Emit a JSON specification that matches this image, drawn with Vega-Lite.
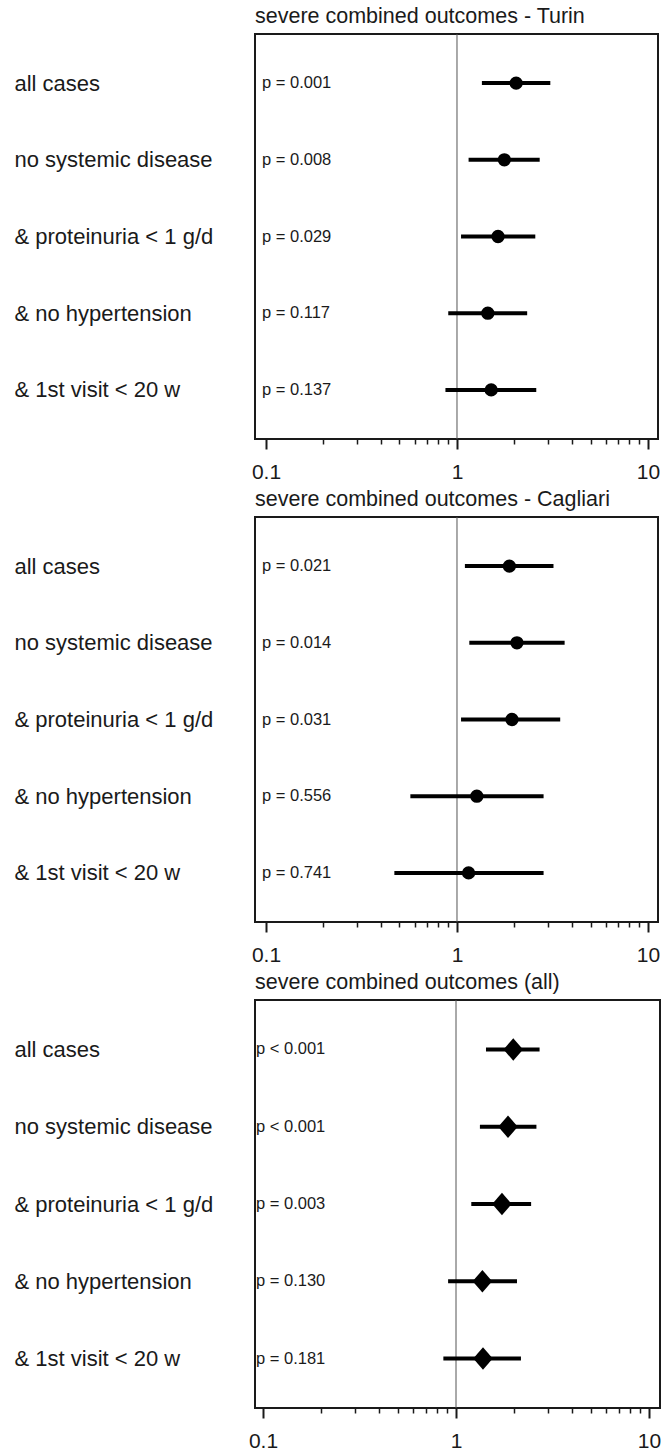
{
  "$schema": "https://vega.github.io/schema/vega-lite/v6.json",
  "padding": {"left": 13, "top": 5, "right": 0, "bottom": 0},
  "spacing": 5,
  "config": {
    "font": "Liberation Sans",
    "view": {"stroke": "#1a1a1a", "strokeWidth": 2},
    "axis": {"grid": false, "title": null, "labelColor": "#1a1a1a", "labelFont": "Liberation Sans"},
    "title": {"font": "Liberation Sans", "fontSize": 21.5, "fontWeight": "normal", "color": "#1a1a1a", "anchor": "start", "frame": "group"}
  },
  "datasets": {
    "forest": [
      {"panel": "Turin", "label": "all cases", "p": "p = 0.001", "or": 2.04, "lo": 1.35, "hi": 3.08},
      {"panel": "Turin", "label": "no systemic disease", "p": "p = 0.008", "or": 1.77, "lo": 1.15, "hi": 2.71},
      {"panel": "Turin", "label": "& proteinuria < 1 g/d", "p": "p = 0.029", "or": 1.64, "lo": 1.05, "hi": 2.57},
      {"panel": "Turin", "label": "& no hypertension", "p": "p = 0.117", "or": 1.45, "lo": 0.90, "hi": 2.33},
      {"panel": "Turin", "label": "& 1st visit < 20 w", "p": "p = 0.137", "or": 1.51, "lo": 0.87, "hi": 2.60},
      {"panel": "Cagliari", "label": "all cases", "p": "p = 0.021", "or": 1.88, "lo": 1.10, "hi": 3.20},
      {"panel": "Cagliari", "label": "no systemic disease", "p": "p = 0.014", "or": 2.06, "lo": 1.16, "hi": 3.66},
      {"panel": "Cagliari", "label": "& proteinuria < 1 g/d", "p": "p = 0.031", "or": 1.94, "lo": 1.05, "hi": 3.47},
      {"panel": "Cagliari", "label": "& no hypertension", "p": "p = 0.556", "or": 1.27, "lo": 0.57, "hi": 2.84},
      {"panel": "Cagliari", "label": "& 1st visit < 20 w", "p": "p = 0.741", "or": 1.15, "lo": 0.47, "hi": 2.84},
      {"panel": "All", "label": "all cases", "p": "p < 0.001", "or": 1.98, "lo": 1.43, "hi": 2.71},
      {"panel": "All", "label": "no systemic disease", "p": "p < 0.001", "or": 1.86, "lo": 1.33, "hi": 2.61},
      {"panel": "All", "label": "& proteinuria < 1 g/d", "p": "p = 0.003", "or": 1.73, "lo": 1.20, "hi": 2.45},
      {"panel": "All", "label": "& no hypertension", "p": "p = 0.130", "or": 1.37, "lo": 0.91, "hi": 2.07},
      {"panel": "All", "label": "& 1st visit < 20 w", "p": "p = 0.181", "or": 1.38, "lo": 0.86, "hi": 2.17}
    ]
  },
  "vconcat": [
    {
      "title": {"text": "severe combined outcomes - Turin", "offset": 6},
      "width": 403, "height": 405,
      "data": {"name": "forest"},
      "transform": [{"filter": "datum.panel == 'Turin'"}],
      "resolve": {"axis": {"x": "independent"}},
      "layer": [
        {"data": {"values": [{"ref": 1}]}, "mark": {"type": "rule", "color": "#555", "strokeWidth": 1},
         "encoding": {"x": {"field": "ref", "type": "quantitative", "scale": {"type": "log", "domain": [0.0876, 11.28], "nice": false}, "axis": null}}},
        {"mark": {"type": "rule", "color": "#000", "strokeWidth": 4},
         "encoding": {
           "x": {"field": "lo", "type": "quantitative", "scale": {"type": "log", "domain": [0.0876, 11.28], "nice": false},
                 "axis": {"orient": "bottom", "values": [0.1, 1, 10], "format": "~g", "domain": false, "tickSize": 10, "tickWidth": 2, "tickColor": "#1a1a1a", "labelFontSize": 21, "labelPadding": 12, "labelFlush": false}},
           "x2": {"field": "hi"},
           "y": {"field": "label", "type": "nominal", "sort": null, "scale": {"type": "point", "padding": 0.64},
                 "axis": {"orient": "left", "ticks": false, "domain": false, "labelAlign": "left", "labelPadding": 241, "labelFontSize": 22, "labelLimit": 0, "labelBaseline": "middle"}}
         }},
        {"mark": {"type": "point", "shape": "circle", "filled": true, "color": "#000", "opacity": 1, "size": 177},
         "encoding": {
           "x": {"field": "or", "type": "quantitative", "scale": {"type": "log", "domain": [0.0876, 11.28], "nice": false},
                 "axis": {"orient": "bottom", "values": [0.2,0.3,0.4,0.5,0.6,0.7,0.8,0.9,2,3,4,5,6,7,8,9], "labels": false, "domain": false, "tickSize": 5, "tickWidth": 1.5, "tickColor": "#1a1a1a"}},
           "y": {"field": "label", "type": "nominal", "sort": null}
         }},
        {"mark": {"type": "text", "align": "left", "baseline": "middle", "fontSize": 16.5, "dx": -4, "color": "#1a1a1a"},
         "encoding": {
           "x": {"datum": 0.1, "type": "quantitative", "axis": null},
           "y": {"field": "label", "type": "nominal", "sort": null},
           "text": {"field": "p"}
         }}
      ]
    },
    {
      "title": {"text": "severe combined outcomes - Cagliari", "offset": 6},
      "width": 403, "height": 405,
      "data": {"name": "forest"},
      "transform": [{"filter": "datum.panel == 'Cagliari'"}],
      "resolve": {"axis": {"x": "independent"}},
      "layer": [
        {"data": {"values": [{"ref": 1}]}, "mark": {"type": "rule", "color": "#555", "strokeWidth": 1},
         "encoding": {"x": {"field": "ref", "type": "quantitative", "scale": {"type": "log", "domain": [0.0876, 11.28], "nice": false}, "axis": null}}},
        {"mark": {"type": "rule", "color": "#000", "strokeWidth": 4},
         "encoding": {
           "x": {"field": "lo", "type": "quantitative", "scale": {"type": "log", "domain": [0.0876, 11.28], "nice": false},
                 "axis": {"orient": "bottom", "values": [0.1, 1, 10], "format": "~g", "domain": false, "tickSize": 10, "tickWidth": 2, "tickColor": "#1a1a1a", "labelFontSize": 21, "labelPadding": 12, "labelFlush": false}},
           "x2": {"field": "hi"},
           "y": {"field": "label", "type": "nominal", "sort": null, "scale": {"type": "point", "padding": 0.64},
                 "axis": {"orient": "left", "ticks": false, "domain": false, "labelAlign": "left", "labelPadding": 241, "labelFontSize": 22, "labelLimit": 0, "labelBaseline": "middle"}}
         }},
        {"mark": {"type": "point", "shape": "circle", "filled": true, "color": "#000", "opacity": 1, "size": 177},
         "encoding": {
           "x": {"field": "or", "type": "quantitative", "scale": {"type": "log", "domain": [0.0876, 11.28], "nice": false},
                 "axis": {"orient": "bottom", "values": [0.2,0.3,0.4,0.5,0.6,0.7,0.8,0.9,2,3,4,5,6,7,8,9], "labels": false, "domain": false, "tickSize": 5, "tickWidth": 1.5, "tickColor": "#1a1a1a"}},
           "y": {"field": "label", "type": "nominal", "sort": null}
         }},
        {"mark": {"type": "text", "align": "left", "baseline": "middle", "fontSize": 16.5, "dx": -4, "color": "#1a1a1a"},
         "encoding": {
           "x": {"datum": 0.1, "type": "quantitative", "axis": null},
           "y": {"field": "label", "type": "nominal", "sort": null},
           "text": {"field": "p"}
         }}
      ]
    },
    {
      "title": {"text": "severe combined outcomes (all)", "offset": 6},
      "width": 405, "height": 408,
      "data": {"name": "forest"},
      "transform": [{"filter": "datum.panel == 'All'"}],
      "resolve": {"axis": {"x": "independent"}},
      "layer": [
        {"data": {"values": [{"ref": 1}]}, "mark": {"type": "rule", "color": "#555", "strokeWidth": 1},
         "encoding": {"x": {"field": "ref", "type": "quantitative", "scale": {"type": "log", "domain": [0.0909, 11.40], "nice": false}, "axis": null}}},
        {"mark": {"type": "rule", "color": "#000", "strokeWidth": 4},
         "encoding": {
           "x": {"field": "lo", "type": "quantitative", "scale": {"type": "log", "domain": [0.0909, 11.40], "nice": false},
                 "axis": {"orient": "bottom", "values": [0.1, 1, 10], "format": "~g", "domain": false, "tickSize": 10, "tickWidth": 2, "tickColor": "#1a1a1a", "labelFontSize": 21, "labelPadding": 12, "labelFlush": false}},
           "x2": {"field": "hi"},
           "y": {"field": "label", "type": "nominal", "sort": null, "scale": {"type": "point", "padding": 0.64},
                 "axis": {"orient": "left", "ticks": false, "domain": false, "labelAlign": "left", "labelPadding": 241, "labelFontSize": 22, "labelLimit": 0, "labelBaseline": "middle"}}
         }},
        {"mark": {"type": "point", "shape": "M-1,0L0,-1.15L1,0L0,1.15Z", "filled": true, "color": "#000", "opacity": 1, "size": 380},
         "encoding": {
           "x": {"field": "or", "type": "quantitative", "scale": {"type": "log", "domain": [0.0909, 11.40], "nice": false},
                 "axis": {"orient": "bottom", "values": [0.2,0.3,0.4,0.5,0.6,0.7,0.8,0.9,2,3,4,5,6,7,8,9], "labels": false, "domain": false, "tickSize": 5, "tickWidth": 1.5, "tickColor": "#1a1a1a"}},
           "y": {"field": "label", "type": "nominal", "sort": null}
         }},
        {"mark": {"type": "text", "align": "left", "baseline": "middle", "fontSize": 16.5, "dx": -7, "color": "#1a1a1a"},
         "encoding": {
           "x": {"datum": 0.1, "type": "quantitative", "axis": null},
           "y": {"field": "label", "type": "nominal", "sort": null},
           "text": {"field": "p"}
         }}
      ]
    }
  ]
}
